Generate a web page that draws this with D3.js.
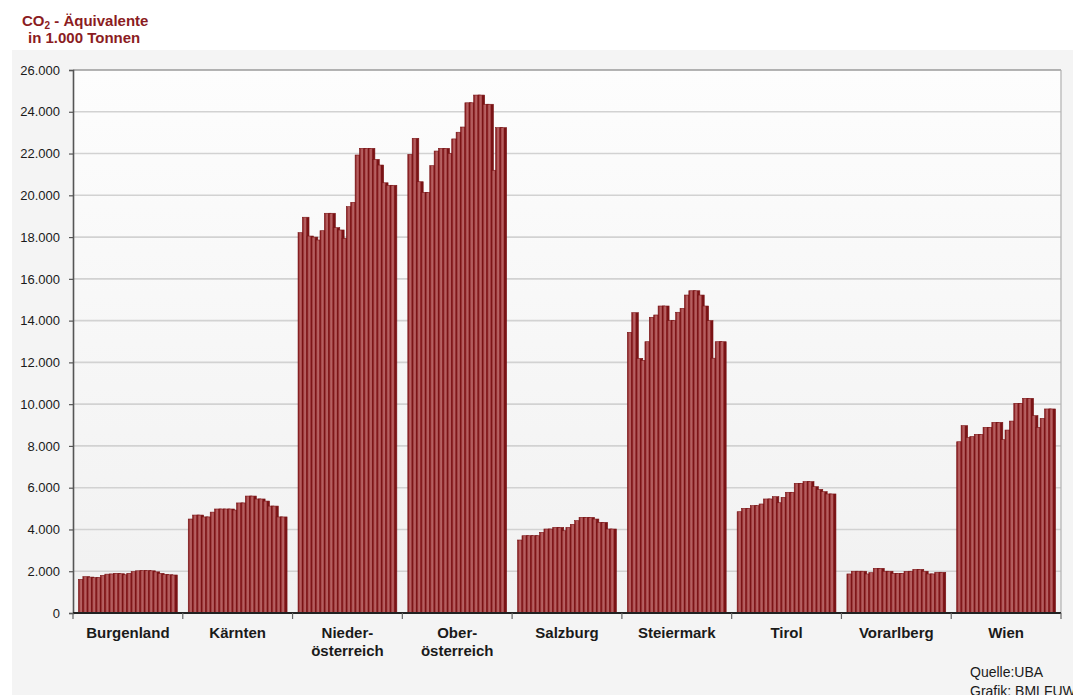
<!DOCTYPE html>
<html>
<head>
<meta charset="utf-8">
<script src="https://cdn.jsdelivr.net/npm/d3@7"></script>
<style>
  html, body { margin: 0; padding: 0; background: #ffffff; }
  svg { display: block; font-family: "Liberation Sans", Arial, sans-serif; }
</style>
</head>
<body>
<svg id="chart" width="1073" height="695"></svg>
<script>
// Treibhausgasemissionen der Bundesländer, CO2-Äquivalente in 1.000 t, 1990–2011
const years = d3.range(1990, 2012);

const categories = ["Burgenland", "Kärnten", "Niederösterreich", "Oberösterreich",
  "Salzburg", "Steiermark", "Tirol", "Vorarlberg", "Wien"];

const categoryLabels = [["Burgenland"], ["Kärnten"], ["Nieder-", "österreich"],
  ["Ober-", "österreich"], ["Salzburg"], ["Steiermark"], ["Tirol"], ["Vorarlberg"], ["Wien"]];

const burgenland = [1610, 1740, 1720, 1690, 1700, 1800, 1860, 1870, 1900, 1880, 1830,
  1900, 1980, 2020, 2030, 2030, 2020, 1970, 1900, 1850, 1830, 1820];
const kaernten = [4500, 4690, 4690, 4600, 4600, 4830, 4980, 4980, 4980, 4980, 4930,
  5270, 5270, 5600, 5600, 5460, 5460, 5360, 5120, 5120, 4600, 4600];
const niederoesterreich = [18210, 18950, 18050, 18000, 17860, 18305, 19140, 19140, 18450, 18340, 17940,
  19455, 19665, 21930, 22250, 22250, 22250, 21720, 21450, 20600, 20480, 20480];
const oberoesterreich = [21960, 22730, 20650, 20140, 20140, 21420, 22120, 22250, 22250, 22010, 22700,
  23020, 23270, 24430, 24430, 24800, 24800, 24360, 24360, 21200, 23240, 23240];
const salzburg = [3495, 3700, 3700, 3700, 3700, 3862, 4022, 4022, 4100, 4100, 3940,
  4100, 4245, 4420, 4580, 4580, 4580, 4500, 4340, 4340, 4022, 4022];
const steiermark = [13440, 14380, 12195, 12100, 12990, 14160, 14270, 14700, 14700, 14000, 14000,
  14400, 14590, 15225, 15430, 15430, 15225, 14700, 14000, 12200, 12990, 12990];
const tirol = [4850, 5010, 5010, 5140, 5140, 5220, 5460, 5460, 5570, 5280, 5540,
  5780, 5780, 6210, 6210, 6290, 6290, 6050, 5920, 5810, 5700, 5700];
const vorarlberg = [1870, 2000, 2000, 2000, 1870, 1930, 2140, 2140, 2000, 2000, 1900,
  1900, 1900, 1995, 2000, 2090, 2090, 2000, 1870, 1870, 1950, 1950];
const wien = [8200, 8970, 8410, 8450, 8555, 8555, 8890, 8890, 9130, 9130, 8300,
  8760, 9190, 10040, 10040, 10280, 10280, 9450, 8890, 9320, 9770, 9770];

const series = [burgenland, kaernten, niederoesterreich, oberoesterreich,
  salzburg, steiermark, tirol, vorarlberg, wien];

const yTicks = d3.range(0, 26001, 2000);

const axisTitle = ["CO", "2", " - Äquivalente"];
const axisTitle2 = "in 1.000 Tonnen";
const sourceLines = ["Quelle:UBA", "Grafik: BMLFUW"];

// ---- layout ----
const W = 1073, H = 695;
const plot = { left: 73, right: 1061, top: 70, bottom: 613 };
const barRed = "#8e1f22";

const svg = d3.select("#chart");
const defs = svg.append("defs");

const bg = defs.append("linearGradient").attr("id", "plotBg")
  .attr("x1", 0).attr("y1", 0).attr("x2", 0).attr("y2", 1);
bg.append("stop").attr("offset", 0).attr("stop-color", "#fdfdfd");
bg.append("stop").attr("offset", 1).attr("stop-color", "#f1f1f1");

// shaded column face: dark edge, lighter body, dark edge
const barGrad = defs.append("linearGradient").attr("id", "barGrad")
  .attr("x1", 0).attr("y1", 0).attr("x2", 1).attr("y2", 0);
[[0, "#7a1315"], [0.1, "#8d2427"], [0.28, "#b25a5b"], [0.46, "#b66263"],
 [0.6, "#983033"], [0.67, "#7a1315"], [1, "#7a1315"]]
  .forEach(([o, c]) => barGrad.append("stop").attr("offset", o).attr("stop-color", c));

svg.append("rect").attr("x", 0).attr("y", 0).attr("width", W).attr("height", H).attr("fill", "#ffffff");
svg.append("rect").attr("x", 12).attr("y", 50).attr("width", W - 12).attr("height", H - 50).attr("fill", "#f4f4f4");
svg.append("rect").attr("x", plot.left).attr("y", plot.top)
  .attr("width", plot.right - plot.left).attr("height", plot.bottom - plot.top)
  .attr("fill", "url(#plotBg)");

// ---- scales ----
const x = d3.scaleBand().domain(categories).range([plot.left, plot.right])
  .paddingInner(0.1).paddingOuter(0.05);
const xYear = d3.scaleBand().domain(years)
  .range([0, x.bandwidth() * years.length / (years.length + 0.5)]).padding(0);
const y = d3.scaleLinear().domain([0, 26000]).range([plot.bottom, plot.top]);

const de = d3.formatLocale({ decimal: ",", thousands: ".", grouping: [3], currency: ["", " €"] });
const fmt = de.format(",");

// gridlines
svg.append("g").selectAll("line").data(yTicks.filter(v => v > 0)).join("line")
  .attr("x1", plot.left).attr("x2", plot.right)
  .attr("y1", d => y(d)).attr("y2", d => y(d))
  .attr("stroke", d => d === 26000 ? "#9a9a9a" : "#d2d2d2")
  .attr("stroke-width", 1.6);
svg.append("line").attr("x1", plot.right).attr("x2", plot.right)
  .attr("y1", plot.top).attr("y2", plot.bottom)
  .attr("stroke", "#b0b0b0").attr("stroke-width", 1.2);

// bars: each column is 1.5 slots wide, so neighbours overlap like a shaded column chart
const barW = xYear.step() * 1.5;
const groups = svg.append("g").selectAll("g").data(categories).join("g")
  .attr("transform", d => `translate(${x(d)},0)`);
groups.selectAll("rect")
  .data((d, i) => series[i].map((v, j) => ({ year: years[j], value: v })))
  .join("rect")
  .attr("x", d => xYear(d.year))
  .attr("y", d => y(d.value))
  .attr("width", barW)
  .attr("height", d => y(0) - y(d.value))
  .attr("fill", "url(#barGrad)")
  .attr("stroke", "#7a1315").attr("stroke-width", 0.6);

// y axis
const yAxis = svg.append("g").attr("transform", `translate(${plot.left},0)`)
  .call(d3.axisLeft(y).tickValues(yTicks).tickFormat(fmt).tickSize(4).tickPadding(9));
yAxis.select(".domain").attr("stroke", "#555").attr("stroke-width", 1.6);
yAxis.selectAll(".tick line").attr("stroke", "#555").attr("stroke-width", 1.2);
yAxis.selectAll(".tick text").attr("fill", "#1a1a1a").attr("font-size", 13)
  .attr("font-family", "'Liberation Sans', Arial, sans-serif");

// x axis baseline and category separators
svg.append("line").attr("x1", plot.left).attr("x2", plot.right)
  .attr("y1", y(0)).attr("y2", y(0)).attr("stroke", "#222").attr("stroke-width", 1.8);
const sep = d3.range(categories.length + 1).map(i => plot.left + i * x.step());
svg.append("g").selectAll("line").data(sep).join("line")
  .attr("x1", d => d).attr("x2", d => d)
  .attr("y1", y(0)).attr("y2", y(0) + 6)
  .attr("stroke", "#666").attr("stroke-width", 1.2);

// category labels
const lab = svg.append("g").selectAll("text").data(categories).join("text")
  .attr("x", d => x(d) + x.bandwidth() / 2)
  .attr("y", 638)
  .attr("text-anchor", "middle")
  .attr("font-size", 15).attr("font-weight", "bold").attr("fill", "#1a1a1a");
lab.selectAll("tspan").data((d, i) => categoryLabels[i]).join("tspan")
  .attr("x", function () { return d3.select(this.parentNode).attr("x"); })
  .attr("dy", (d, i) => i === 0 ? 0 : 18)
  .text(d => d);

// axis title
const t1 = svg.append("text").attr("x", 22).attr("y", 26)
  .attr("font-size", 15).attr("font-weight", "bold").attr("fill", "#8b1c22");
t1.append("tspan").text(axisTitle[0]);
t1.append("tspan").attr("font-size", 10).attr("dy", 3).text(axisTitle[1]);
t1.append("tspan").attr("dy", -3).text(axisTitle[2]);
svg.append("text").attr("x", 28).attr("y", 43)
  .attr("font-size", 15).attr("font-weight", "bold").attr("fill", "#8b1c22")
  .text(axisTitle2);

// source note
svg.append("g").selectAll("text").data(sourceLines).join("text")
  .attr("x", 970).attr("y", (d, i) => 677 + i * 19)
  .attr("font-size", 14).attr("fill", "#1a1a1a")
  .text(d => d);
</script>
</body>
</html>
